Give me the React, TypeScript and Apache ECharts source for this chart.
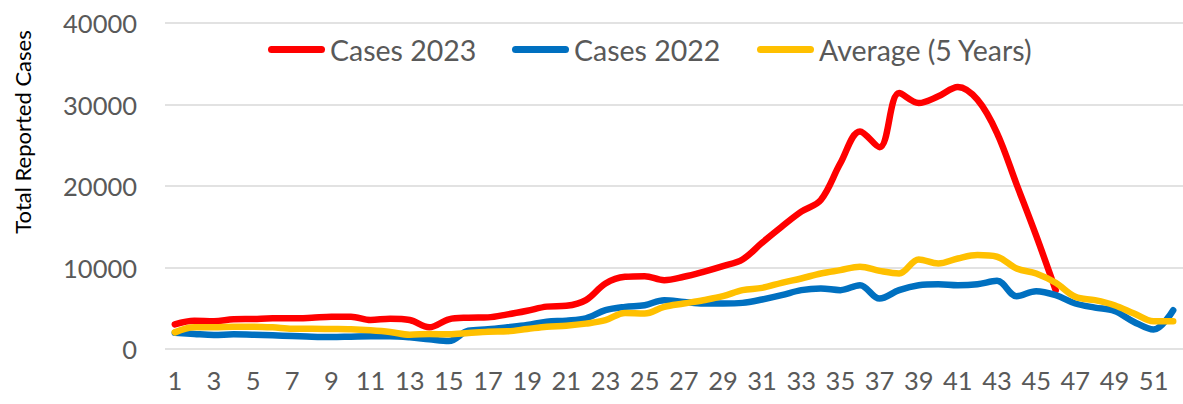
import React, { useEffect, useRef } from "react";
import * as echarts from "echarts";

const weeks = Array.from({ length: 52 }, (_, i) => String(i + 1));

const cases2023 = [
  3030, 3470, 3400, 3640, 3680, 3760, 3760, 3840, 3970, 3970,
  3560, 3720, 3560, 2660, 3640, 3840, 3880, 4250, 4700, 5200,
  5300, 6000, 8040, 8860, 8940, 8450, 8860, 9470, 10170, 10990,
  13040, 15000, 16850, 18290, 22800, 26700, 24760, 31400, 30180, 31000,
  32150, 30590, 26500, 20200, 13900, 7200,
];

const cases2022 = [
  2000, 1840, 1720, 1800, 1760, 1680, 1600, 1510, 1470, 1510,
  1550, 1550, 1430, 1190, 980, 2250, 2410, 2660, 2940, 3350,
  3480, 3760, 4760, 5170, 5370, 5990, 5780, 5580, 5580, 5660,
  6070, 6600, 7220, 7420, 7220, 7830, 6190, 7220, 7830, 7950,
  7830, 7950, 8360, 6480, 7090, 6600, 5580, 5080, 4670, 3320,
  2380, 4760,
];

const average5y = [
  2040, 2660, 2660, 2740, 2740, 2660, 2490, 2490, 2450, 2410,
  2290, 2090, 1760, 1840, 1800, 1960, 2130, 2170, 2450, 2740,
  2860, 3110, 3530, 4430, 4350, 5170, 5580, 5990, 6480, 7220,
  7500, 8120, 8650, 9270, 9680, 10090, 9590, 9270, 10990, 10500,
  11110, 11520, 11320, 9880, 9270, 8120, 6400, 5990, 5370, 4350,
  3400, 3400,
];

const seriesNames = ["Cases 2023", "Cases 2022", "Average (5 Years)"];
const seriesColors = ["#FF0000", "#0070C0", "#FFC000"];
const yTitle = "Total Reported Cases";

const FONT = "Lato, 'Open Sans', sans-serif";
const TEXT_COLOR = "#595959";
const LEGEND_ICON =
  "path://M3.5,0 L53.5,0 A3.5,3.5 0 0 1 53.5,7 L3.5,7 A3.5,3.5 0 0 1 3.5,0 Z";

export default function App() {
  const ref = useRef<HTMLDivElement>(null);

  useEffect(() => {
    if (!ref.current) return;
    const chart = echarts.init(ref.current, null, { renderer: "svg" });
    const data = [cases2023, cases2022, average5y];
    const legendLefts = [263, 507, 752];

    chart.setOption({
      animation: false,
      backgroundColor: "#ffffff",
      textStyle: { fontFamily: FONT },
      grid: { left: 165, top: 23, width: 1019, height: 326, containLabel: false },
      legend: seriesNames.map((name, i) => ({
        data: [name],
        left: legendLefts[i],
        top: 30,
        icon: LEGEND_ICON,
        itemWidth: 57,
        itemHeight: 7,
        selectedMode: false,
        textStyle: {
          fontFamily: FONT,
          fontSize: 28.5,
          color: TEXT_COLOR,
          lineHeight: 28,
        },
      })),
      xAxis: {
        type: "category",
        data: weeks,
        boundaryGap: true,
        axisLine: { show: false },
        axisTick: { show: false },
        axisLabel: {
          interval: 1,
          margin: 18,
          fontSize: 25.5,
          fontFamily: FONT,
          color: TEXT_COLOR,
        },
        splitLine: { show: false },
      },
      yAxis: {
        type: "value",
        min: 0,
        max: 40000,
        interval: 10000,
        axisLine: { show: false },
        axisTick: { show: false },
        axisLabel: {
          margin: 28,
          fontSize: 25.5,
          fontFamily: FONT,
          color: TEXT_COLOR,
          formatter: (v: number) => String(v),
        },
        splitLine: { lineStyle: { color: "#d9d9d9", width: 1.5 } },
      },
      graphic: [
        {
          type: "text",
          x: 22.5,
          y: 132,
          rotation: Math.PI / 2,
          style: {
            text: yTitle,
            fontFamily: FONT,
            fontSize: 22,
            fill: "#000000",
            align: "center",
            verticalAlign: "middle",
          },
        },
      ],
      series: seriesNames.map((name, i) => ({
        name,
        type: "line",
        data: data[i],
        smooth: 0.35,
        showSymbol: false,
        symbol: "none",
        color: seriesColors[i],
        lineStyle: { color: seriesColors[i], width: 6.5, cap: "round", join: "round" },
        z: 2 + i,
      })),
    });

    return () => chart.dispose();
  }, []);

  return (
    <div
      ref={ref}
      style={{ position: "absolute", left: 0, top: 0, width: 1183, height: 404 }}
    />
  );
}
